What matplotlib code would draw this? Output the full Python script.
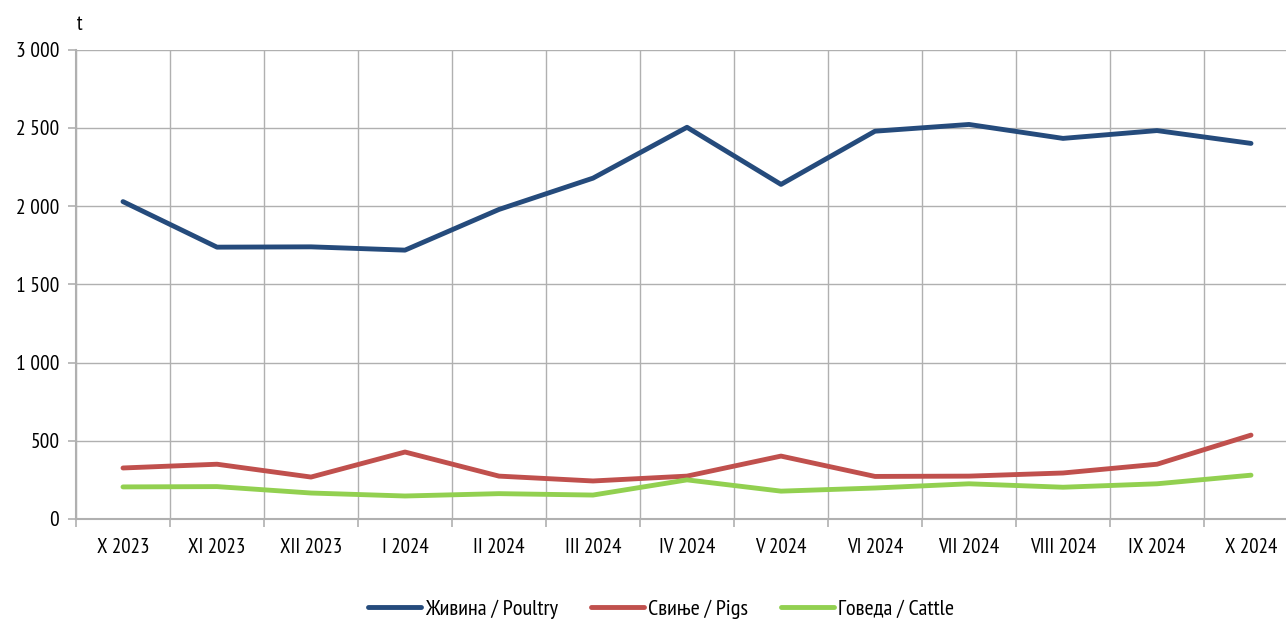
import numpy as np
import matplotlib.pyplot as plt
from matplotlib import font_manager

names = {f.name for f in font_manager.fontManager.ttflist}
prefs = ['Liberation Sans Narrow', 'Arial Narrow', 'PT Sans Narrow', 'Roboto Condensed', 'Liberation Sans']
fam = next(n for n in prefs if n in names)
plt.rcParams['font.family'] = [fam, 'Liberation Sans', 'DejaVu Sans']

months = ['X 2023', 'XI 2023', 'XII 2023', 'I 2024', 'II 2024', 'III 2024', 'IV 2024',
          'V 2024', 'VI 2024', 'VII 2024', 'VIII 2024', 'IX 2024', 'X 2024']
poultry = [2028, 1737, 1739, 1718, 1978, 2178, 2503, 2138, 2478, 2521, 2432, 2482, 2400]
pigs = [326, 350, 268, 428, 274, 243, 274, 402, 272, 274, 294, 350, 536]
cattle = [205, 207, 166, 147, 162, 153, 250, 178, 198, 225, 203, 225, 280]

fig = plt.figure(figsize=(12.86, 6.21), dpi=100)
ax = fig.add_axes([76 / 1286, 1 - 519 / 621, 1222 / 1286, 469.5 / 621])

x = np.arange(len(months))
ax.plot(x, poultry, color='#254B7C', lw=3.5, label='Живина / Poultry', solid_capstyle='round')
ax.plot(x, pigs, color='#C0504D', lw=3.5, label='Свиње / Pigs', solid_capstyle='round')
ax.plot(x, cattle, color='#92D050', lw=3.5, label='Говеда / Cattle', solid_capstyle='round')

ax.set_xlim(-0.5, len(months) - 0.5)
ax.set_ylim(0, 3000)
ax.set_yticks(range(0, 3001, 500))
ax.set_yticklabels([f'{v:,}'.replace(',', ' ') for v in range(0, 3001, 500)])
ax.set_xticks(x)
ax.set_xticklabels(months)
ax.set_xticks(np.arange(-0.5, len(months), 1), minor=True)

grid_c = '#B0B0B0'
ax.grid(True, axis='y', color=grid_c, lw=1)
ax.grid(True, axis='x', which='minor', color=grid_c, lw=1)
ax.set_axisbelow(True)
ax.tick_params(axis='x', which='major', length=0, labelsize=15, pad=14)
ax.tick_params(axis='x', which='minor', length=6, color=grid_c, width=1.2)
ax.tick_params(axis='y', length=6, color=grid_c, width=1.2, labelsize=15.5, pad=6)
for s in ['top', 'right']:
    ax.spines[s].set_visible(False)
for s in ['left', 'bottom']:
    ax.spines[s].set_color(grid_c)
    ax.spines[s].set_linewidth(1.5)

fig.text(80 / 1286, 1 - 25 / 621, 't', fontsize=15, ha='center', va='center')

fig.legend(loc='center', bbox_to_anchor=(661 / 1286, 1 - 609 / 621), ncol=3, frameon=False,
           fontsize=16, handlelength=2.4, columnspacing=1.45, handletextpad=0.2)

fig.savefig('out.png', dpi=100)
